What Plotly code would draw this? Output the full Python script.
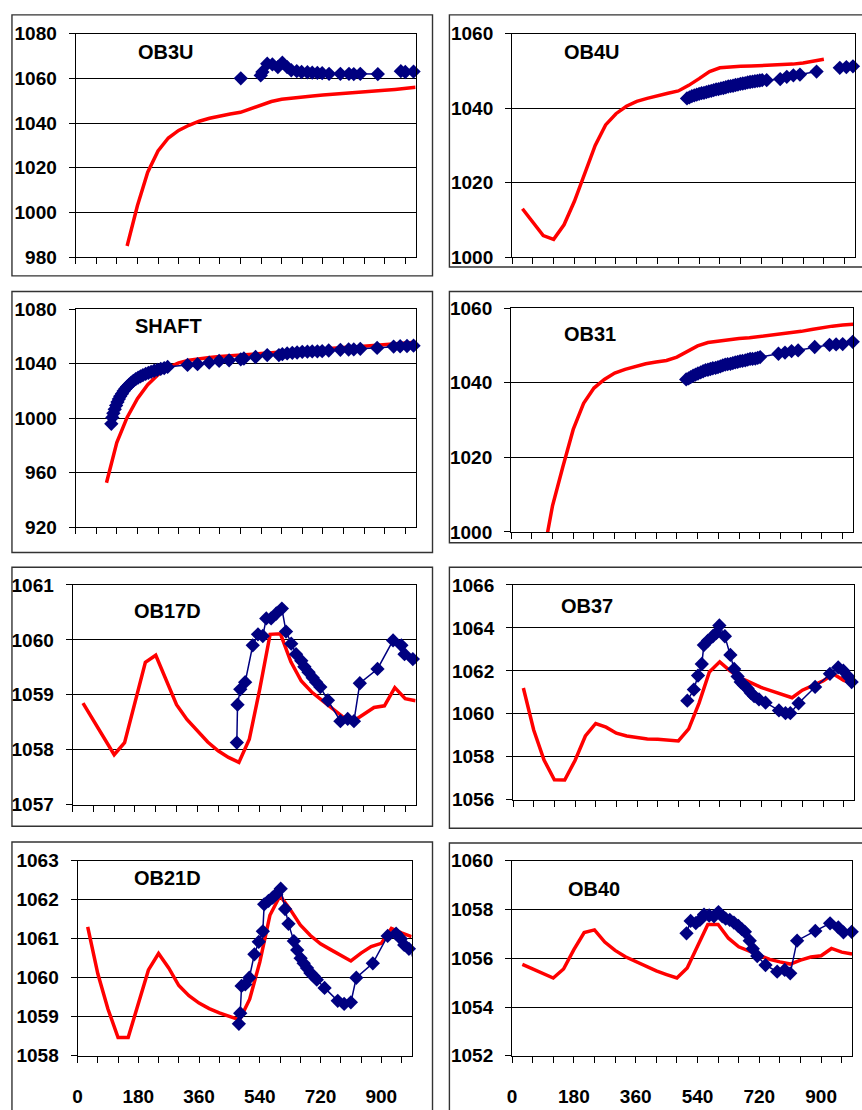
import plotly.graph_objects as go

W, H = 862, 1110

# ---------------- data ----------------
# Simulated heads (red lines), sampled every 30 time units
ob3u_sim_t = list(range(150, 1000, 30))
ob3u_sim = [985.0, 1003.0, 1018.0, 1027.5, 1033.3, 1036.7, 1039.0, 1040.8, 1042.1, 1043.2,
            1044.0, 1044.8, 1046.3, 1048.0, 1049.6, 1050.6, 1051.2, 1051.7, 1052.1, 1052.5,
            1052.8, 1053.1, 1053.4, 1053.7, 1054.1, 1054.6, 1055.0, 1055.5, 1056.0]

ob4u_sim_t = list(range(30, 901, 30))
ob4u_sim = [1013.0, 1009.5, 1005.8, 1004.8, 1008.7, 1015.0, 1022.5, 1030.0, 1035.5, 1038.5,
            1040.5, 1041.8, 1042.6, 1043.4, 1044.0, 1044.6, 1046.1, 1047.9, 1049.8, 1050.8,
            1051.1, 1051.2, 1051.3, 1051.4, 1051.5, 1051.6, 1051.8, 1052.1, 1052.6, 1053.1]

shaft_sim_t = list(range(90, 1000, 30))
shaft_sim = [952.5, 982.0, 1000.5, 1014.3, 1024.5, 1031.8, 1037.2, 1040.6, 1042.5, 1043.7,
             1044.5, 1045.2, 1045.8, 1046.4, 1047.0, 1047.6, 1048.2, 1048.8, 1049.3, 1049.8,
             1050.3, 1050.8, 1051.3, 1051.8, 1052.3, 1052.8, 1053.4, 1054.0, 1054.6, 1055.2,
             1055.8]

ob31_sim_t = list(range(90, 1000, 30))
ob31_sim = [992.0, 1007.0, 1017.5, 1027.5, 1034.5, 1038.6, 1040.9, 1042.6, 1043.6, 1044.4,
            1045.1, 1045.6, 1046.0, 1046.9, 1048.4, 1049.9, 1050.8, 1051.2, 1051.6, 1051.9,
            1052.1, 1052.4, 1052.7, 1053.0, 1053.3, 1053.8, 1054.3, 1054.8, 1055.2, 1055.5,
            1055.7]

ob17d_sim_t = list(range(30, 1000, 30))
ob17d_sim = [1058.85, 1058.54, 1058.22, 1057.91, 1058.13, 1058.86, 1059.59, 1059.72, 1059.26,
             1058.82, 1058.55, 1058.34, 1058.14, 1057.98, 1057.86, 1057.77, 1058.19, 1059.10,
             1060.10, 1060.11, 1059.60, 1059.25, 1059.05, 1058.90, 1058.75, 1058.60, 1058.52,
             1058.65, 1058.77, 1058.80, 1059.13, 1058.93, 1058.89]

ob37_sim_t = list(range(30, 1000, 30))
ob37_sim = [1061.20, 1059.25, 1057.85, 1056.93, 1056.92, 1057.83, 1058.97, 1059.55, 1059.38,
            1059.10, 1058.97, 1058.90, 1058.83, 1058.82, 1058.79, 1058.74, 1059.30, 1060.50,
            1061.95, 1062.42, 1062.00, 1061.67, 1061.45, 1061.23, 1061.07, 1060.90, 1060.75,
            1061.10, 1061.30, 1061.53, 1061.85, 1061.56, 1061.40]

ob21d_sim_t = list(range(30, 1000, 30))
ob21d_sim = [1061.30, 1060.10, 1059.20, 1058.47, 1058.47, 1059.30, 1060.20, 1060.62, 1060.25,
             1059.80, 1059.54, 1059.35, 1059.21, 1059.10, 1059.01, 1058.92, 1059.45, 1060.40,
             1061.60, 1062.10, 1061.75, 1061.35, 1061.08, 1060.87, 1060.72, 1060.58, 1060.43,
             1060.63, 1060.80, 1060.88, 1061.26, 1061.15, 1061.05]

ob40_sim_t = list(range(30, 1000, 30))
ob40_sim = [1055.75, 1055.57, 1055.38, 1055.19, 1055.56, 1056.35, 1057.05, 1057.16, 1056.66,
            1056.32, 1056.06, 1055.86, 1055.66, 1055.48, 1055.33, 1055.19, 1055.60, 1056.46,
            1057.38, 1057.38, 1056.82, 1056.47, 1056.30, 1056.13, 1055.95, 1055.85, 1055.76,
            1055.92, 1056.05, 1056.10, 1056.40, 1056.25, 1056.17]

# Observed heads (blue diamonds); None marks a break in the record
ob3u_obs_t = [481, None, 539, 544, 558, 573, 589, 602, 616, 628, 644, 658, 675, 689, 704, 718,
              738, 771, 796, 810, 829, 880, None, 947, 960, 984, 1003]
ob3u_obs = [1060.0, None, 1061.3, 1062.8, 1066.5, 1066.2, 1065.0, 1067.0, 1065.0, 1063.6,
            1063.2, 1062.8, 1062.7, 1062.5, 1062.4, 1062.3, 1062.0, 1062.0, 1062.0, 1061.9,
            1062.0, 1061.9, None, 1063.2, 1062.8, 1063.0, 1062.5]

ob4u_obs_t = [505, 512, 519, 526, 533, 540, 547, 554, 561, 568, 575, 582, 589, 596, 603, 610,
              617, 624, 631, 638, 645, 652, 659, 666, 673, 680, 687, 694, 701, 708, 715, 722,
              735, 774, 793, 812, 831, 879, None, 946, 965, 984, 1008]
ob4u_obs = [1042.6, 1042.9, 1043.2, 1043.4, 1043.6, 1043.8, 1044.0, 1044.1, 1044.3, 1044.5,
            1044.6, 1044.8, 1045.0, 1045.1, 1045.3, 1045.4, 1045.6, 1045.8, 1045.9, 1046.0,
            1046.2, 1046.3, 1046.5, 1046.6, 1046.7, 1046.9, 1047.0, 1047.1, 1047.2, 1047.3,
            1047.4, 1047.5, 1047.5, 1047.8, 1048.4, 1048.8, 1049.0, 1049.8, None, 1050.8,
            1051.0, 1051.2, 1051.3]

shaft_obs_t = [104, 107, 110, 114, 118, 122, 126, 130, 135, 140, 145, 150, 156, 162, 168, 175,
               182, 189, 196, 204, 212, 220, 229, 238, 248, 258, 268, 326, 355, 389, 418, 447,
               481, 490, 524, 558, 592, 602, 616, 631, 645, 660, 675, 689, 704, 718, 737, 771,
               795, 810, 829, 878, 926, 945, 965, 984, 1003]
shaft_obs = [995.8, 1000.5, 1003.5, 1006.5, 1009.3, 1011.8, 1014.0, 1016.0, 1018.0, 1020.0,
             1021.6, 1023.1, 1024.6, 1026.0, 1027.3, 1028.6, 1029.7, 1030.7, 1031.6, 1032.5,
             1033.3, 1034.0, 1034.8, 1035.5, 1036.2, 1036.8, 1037.6, 1039.1, 1039.6, 1040.8,
             1042.0, 1042.5, 1043.2, 1043.8, 1044.9, 1046.3, 1046.3, 1047.0, 1047.5, 1048.0,
             1048.2, 1048.7, 1048.8, 1049.0, 1049.1, 1049.2, 1049.7, 1050.2, 1050.4, 1050.5,
             1050.9, 1051.6, 1052.6, 1052.8, 1053.0, 1053.2, 1053.5]

ob31_obs_t = [507, 514, 520, 527, 534, 541, 549, 556, 563, 570, 577, 584, 592, 599, 606, 613,
              620, 627, 635, 642, 649, 656, 663, 670, 678, 685, 692, 699, 707, 714, 721, 774,
              793, 812, 831, 879, 922, 941, 960, 989, 1008]
ob31_obs = [1040.9, 1041.2, 1041.5, 1041.9, 1042.2, 1042.5, 1042.8, 1043.1, 1043.4, 1043.5,
            1043.7, 1043.9, 1044.0, 1044.2, 1044.4, 1044.7, 1044.9, 1045.0, 1045.1, 1045.3,
            1045.5, 1045.6, 1045.8, 1045.9, 1046.0, 1046.2, 1046.4, 1046.4, 1046.5, 1046.7,
            1046.9, 1047.8, 1048.1, 1048.5, 1048.7, 1049.6, 1050.2, 1050.3, 1050.4, 1051.0,
            1051.0]

ob17d_obs_t = [474, 476, 484, 498, 520, 535, 549, 559, 573, 588, 604, 616, 631, 645, 660, 669,
               681, 693, 703, 715, 737, 773, 794, 812, 829, 880, 925, 949, 958, 982, 1011]
ob17d_obs = [1058.13, 1058.82, 1059.10, 1059.23, 1059.90, 1060.10, 1060.07, 1060.39, 1060.39,
             1060.48, 1060.57, 1060.15, 1059.93, 1059.74, 1059.62, 1059.51, 1059.41, 1059.31,
             1059.23, 1059.14, 1058.90, 1058.52, 1058.56, 1058.52, 1059.21, 1059.47, 1059.99,
             1059.90, 1059.74, 1059.65, 1059.41]

ob37_obs_t = [506, 525, 537, 548, 554, 566, 580, 590, 599, 615, 631, 642, 652, 661, 671, 681,
              690, 700, 714, 733, 772, 791, 805, 829, 877, 920, 944, 959, 973, 983, 1012]
ob37_obs = [1060.61, 1061.13, 1061.78, 1062.32, 1063.20, 1063.41, 1063.61, 1063.76, 1064.11,
            1063.61, 1062.74, 1062.09, 1061.74, 1061.48, 1061.33, 1061.18, 1060.98, 1060.82,
            1060.67, 1060.52, 1060.16, 1060.03, 1060.03, 1060.49, 1061.25, 1061.86, 1062.16,
            1062.01, 1061.74, 1061.48, 1061.10]

ob21d_obs_t = [478, 482, 486, 497, 509, 524, 537, 549, 553, 566, 578, 589, 602, 615, 625, 641,
               651, 661, 670, 680, 690, 700, 709, 732, 771, 790, 810, 826, 875, 919, 944, 958,
               968, 982, 1004]
ob21d_obs = [1058.82, 1059.09, 1059.79, 1059.83, 1060.00, 1060.60, 1060.92, 1061.19, 1061.88,
             1061.97, 1062.05, 1062.14, 1062.28, 1061.76, 1061.38, 1060.94, 1060.71, 1060.50,
             1060.37, 1060.25, 1060.12, 1060.04, 1059.95, 1059.74, 1059.41, 1059.33, 1059.37,
             1060.00, 1060.37, 1061.07, 1061.13, 1061.00, 1060.84, 1060.74, 1060.33]

ob40_obs_t = [508, 520, 535, 547, 559, 574, 588, 601, 612, 622, 634, 646, 659, 669, 678, 692,
              701, 714, 738, 772, 794, 810, 830, 883, 926, 950, 965, 989, 1013]
ob40_obs = [1057.02, 1057.53, 1057.44, 1057.57, 1057.79, 1057.75, 1057.72, 1057.89, 1057.72,
            1057.62, 1057.57, 1057.46, 1057.32, 1057.19, 1057.08, 1056.72, 1056.39, 1056.09,
            1055.72, 1055.45, 1055.52, 1055.38, 1056.72, 1057.12, 1057.43, 1057.26, 1057.06,
            1057.08, 1056.25]

x_tick_values = list(range(0, 961, 60))
x_tick_labels = ["0", "180", "360", "540", "720", "900"]

# ---------------- panel layout (pixel boxes) ----------------
panels = [
    # name, sim, obs, y-range, y-step, plot box (x0, y0, x1, y1), frame box, title centre, bottom row
    ("OB3U", (ob3u_sim_t, ob3u_sim), (ob3u_obs_t, ob3u_obs), (980, 1080), 20,
     (71, 24, 413, 252), (7, 5, 430, 271), (162, 43), False),
    ("OB4U", (ob4u_sim_t, ob4u_sim), (ob4u_obs_t, ob4u_obs), (1000, 1060), 20,
     (510, 24, 855, 252), (447, 5, 875, 262), (590, 43), False),
    ("SHAFT", (shaft_sim_t, shaft_sim), (shaft_obs_t, shaft_obs), (920, 1080), 40,
     (71, 305, 413, 527), (7, 287, 430, 553), (164, 322), False),
    ("OB31", (ob31_sim_t, ob31_sim), (ob31_obs_t, ob31_obs), (1000, 1060), 20,
     (509, 304, 853, 532), (447, 287, 875, 543), (588, 330), False),
    ("OB17D", (ob17d_sim_t, ob17d_sim), (ob17d_obs_t, ob17d_obs), (1057, 1061), 1,
     (68, 586, 413, 810), (7, 568, 430, 832), (163, 613), False),
    ("OB37", (ob37_sim_t, ob37_sim), (ob37_obs_t, ob37_obs), (1056, 1066), 2,
     (511, 586, 854, 805), (447, 568, 875, 834), (585, 608), False),
    ("OB21D", (ob21d_sim_t, ob21d_sim), (ob21d_obs_t, ob21d_obs), (1058, 1063), 1,
     (73, 867, 409, 1066), (7, 848, 430, 1125), (163, 885), True),
    ("OB40", (ob40_sim_t, ob40_sim), (ob40_obs_t, ob40_obs), (1052, 1060), 2,
     (510, 867, 852, 1066), (447, 849, 875, 1125), (592, 896), True),
]

FONT = "Liberation Sans, Arial, sans-serif"
RED = "#ff0000"
NAVY = "#000080"


def px_x(v):
    return v / W


def px_y(v):
    return 1 - v / H


fig = go.Figure()
layout = dict(
    width=W, height=H, autosize=False,
    margin=dict(l=0, r=0, t=0, b=0),
    paper_bgcolor="white", plot_bgcolor="white",
    showlegend=False,
    shapes=[], annotations=[],
)

for i, (name, sim, obs, yr, ystep, pbox, fbox, tpos, bottom) in enumerate(panels, start=1):
    xa = "x" if i == 1 else f"x{i}"
    ya = "y" if i == 1 else f"y{i}"
    x0, y0, x1, y1 = pbox

    fig.add_trace(go.Scatter(
        x=sim[0], y=sim[1], xaxis=xa, yaxis=ya, mode="lines",
        line=dict(color=RED, width=3.5), hoverinfo="skip",
    ))
    fig.add_trace(go.Scatter(
        x=obs[0], y=obs[1], xaxis=xa, yaxis=ya, mode="lines+markers",
        line=dict(color=NAVY, width=1.5),
        marker=dict(symbol="diamond", size=11, color=NAVY, line=dict(width=0)),
        connectgaps=False, cliponaxis=False, hoverinfo="skip",
    ))

    ticktext = [(str(v) if (bottom and v % 180 == 0) else "") for v in x_tick_values]
    layout["xaxis" if i == 1 else f"xaxis{i}"] = dict(
        domain=[px_x(x0), px_x(x1)], anchor=ya, range=[0, 990],
        tickmode="array", tickvals=x_tick_values, ticktext=ticktext,
        showticklabels=bottom, ticks="outside", ticklen=6, tickwidth=1, tickcolor="black",
        showgrid=False, zeroline=False,
        showline=True, linecolor="black", linewidth=1, mirror=True,
        tickfont=dict(family=FONT, size=19, color="black", weight="bold"),
        ticklabelstandoff=17,
    )
    layout["yaxis" if i == 1 else f"yaxis{i}"] = dict(
        domain=[px_y(y1), px_y(y0)], anchor=xa, range=list(yr),
        tickmode="linear", tick0=yr[0], dtick=ystep,
        ticks="outside", ticklen=6, tickwidth=1, tickcolor="black",
        showgrid=True, gridcolor="black", gridwidth=1, zeroline=False,
        showline=True, linecolor="black", linewidth=1, mirror=True,
        tickfont=dict(family=FONT, size=19, color="black", weight="bold"),
        ticklabelstandoff=8,
    )

    # chart frame
    fx0, fy0, fx1, fy1 = fbox
    layout["shapes"].append(dict(
        type="rect", xref="paper", yref="paper",
        x0=px_x(fx0), x1=px_x(fx1), y0=px_y(fy1), y1=px_y(fy0),
        line=dict(color="#333333", width=1.4), fillcolor="rgba(0,0,0,0)", layer="below",
    ))
    # well name
    layout["annotations"].append(dict(
        text=name, xref="paper", yref="paper", x=px_x(tpos[0]), y=px_y(tpos[1]),
        xanchor="center", yanchor="middle", showarrow=False,
        font=dict(family=FONT, size=20, color="black", weight="bold"),
    ))

fig.update_layout(**layout)
fig.write_html("out.html")
